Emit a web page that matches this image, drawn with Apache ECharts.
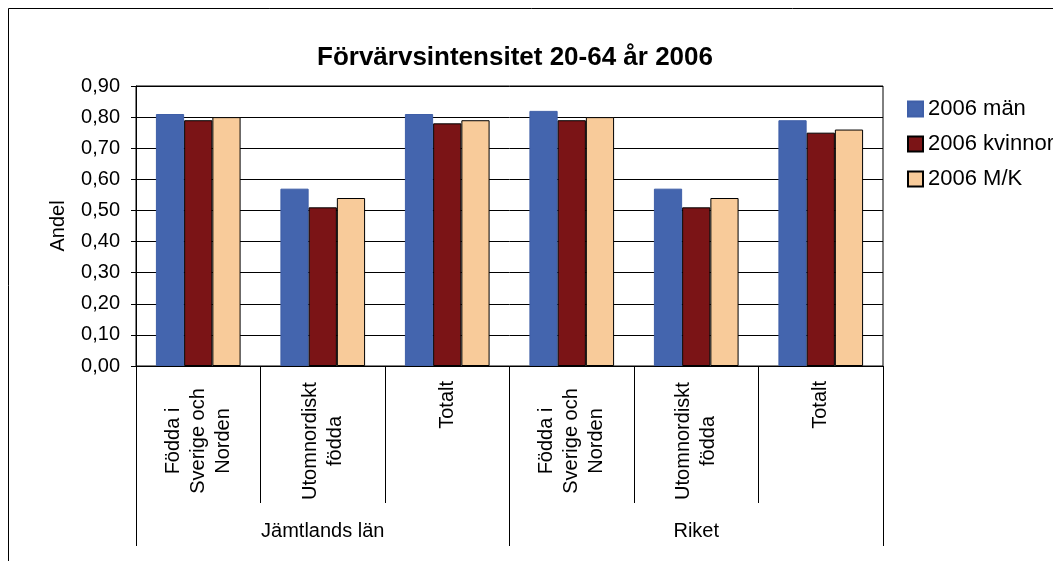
<!DOCTYPE html>
<html>
<head>
<meta charset="utf-8">
<script src="https://cdn.jsdelivr.net/npm/echarts@6/dist/echarts.min.js"></script>
<style>
  html, body { margin: 0; padding: 0; background: #fff; }
  #main { width: 1053px; height: 561px; }
</style>
</head>
<body>
<div id="main"></div>
<script>
// categories (two levels)
const categories = ['Födda i\nSverige och\nNorden', 'Utomnordiskt\nfödda', 'Totalt',
                    'Födda i\nSverige och\nNorden', 'Utomnordiskt\nfödda', 'Totalt'];
const regions = ['Jämtlands län', 'Riket'];

// series values
const man = [0.81, 0.57, 0.81, 0.82, 0.57, 0.79];
const kvinnor = [0.79, 0.51, 0.78, 0.79, 0.51, 0.75];
const mk = [0.80, 0.54, 0.79, 0.80, 0.54, 0.76];

const font = 'Liberation Sans, Arial, sans-serif';

const chartDom = document.getElementById('main');
const myChart = echarts.init(chartDom);

const option = {
  animation: false,
  backgroundColor: '#fff',
  textStyle: { fontFamily: font, color: '#000' },
  title: {
    text: 'Förvärvsintensitet 20-64 år 2006',
    left: 510,
    textAlign: 'center',
    top: 40,
    textStyle: { fontSize: 26, fontWeight: 'bold', color: '#000', fontFamily: font }
  },
  legend: {
    orient: 'vertical',
    left: 902,
    top: 93,
    icon: 'rect',
    itemWidth: 15,
    itemHeight: 15,
    itemGap: 13,
    textStyle: { fontSize: 22, color: '#000', fontFamily: font },
    data: ['2006 män', '2006 kvinnor', '2006 M/K']
  },
  graphic: [
    {
      type: 'rect',
      shape: { x: 8.5, y: 8.5, width: 1100, height: 600 },
      style: { fill: 'none', stroke: '#000', lineWidth: 1 },
      silent: true
    }
  ],
  grid: {
    left: 136,
    right: 170,
    top: 86,
    bottom: 195,
    show: true,
    borderColor: '#000',
    borderWidth: 1
  },
  xAxis: [
    {
      type: 'category',
      data: categories,
      position: 'bottom',
      axisLine: { show: true, lineStyle: { color: '#000' } },
      axisTick: { show: true, length: 137, lineStyle: { color: '#000' } },
      axisLabel: {
        rotate: 90,
        align: 'center',
        margin: 75,
        fontSize: 20,
        lineHeight: 25,
        color: '#000',
        fontFamily: font,
        interval: 0,
        // push the short label up toward the axis
        formatter: v => (v === 'Totalt' ? '             Totalt' : v)
      }
    },
    {
      type: 'category',
      data: regions,
      position: 'bottom',
      axisLine: { show: false },
      axisTick: { show: true, length: 180, lineStyle: { color: '#000' } },
      axisLabel: { margin: 155, fontSize: 20, color: '#000', fontFamily: font, interval: 0 }
    }
  ],
  yAxis: {
    type: 'value',
    min: 0,
    max: 0.9,
    interval: 0.1,
    name: 'Andel',
    nameLocation: 'middle',
    nameGap: 68,
    nameTextStyle: { fontSize: 20, color: '#000', fontFamily: font },
    axisLine: { show: true, lineStyle: { color: '#000' } },
    axisTick: { show: true, length: 5, lineStyle: { color: '#000' } },
    axisLabel: {
      fontSize: 20,
      color: '#000',
      margin: 16,
      fontFamily: font,
      formatter: v => v.toFixed(2).replace('.', ',')
    },
    splitLine: { show: true, lineStyle: { color: '#000', width: 1 } }
  },
  series: [
    {
      name: '2006 män',
      type: 'bar',
      data: man,
      barGap: '0%',
      barCategoryGap: '32%',
      itemStyle: { color: '#4465AE', borderColor: '#3F5FA8', borderWidth: 1 }
    },
    {
      name: '2006 kvinnor',
      type: 'bar',
      data: kvinnor,
      itemStyle: { color: '#7B1416', borderColor: '#000', borderWidth: 1 }
    },
    {
      name: '2006 M/K',
      type: 'bar',
      data: mk,
      itemStyle: { color: '#F8CB9A', borderColor: '#000', borderWidth: 1 }
    }
  ]
};

myChart.setOption(option);
</script>
</body>
</html>
